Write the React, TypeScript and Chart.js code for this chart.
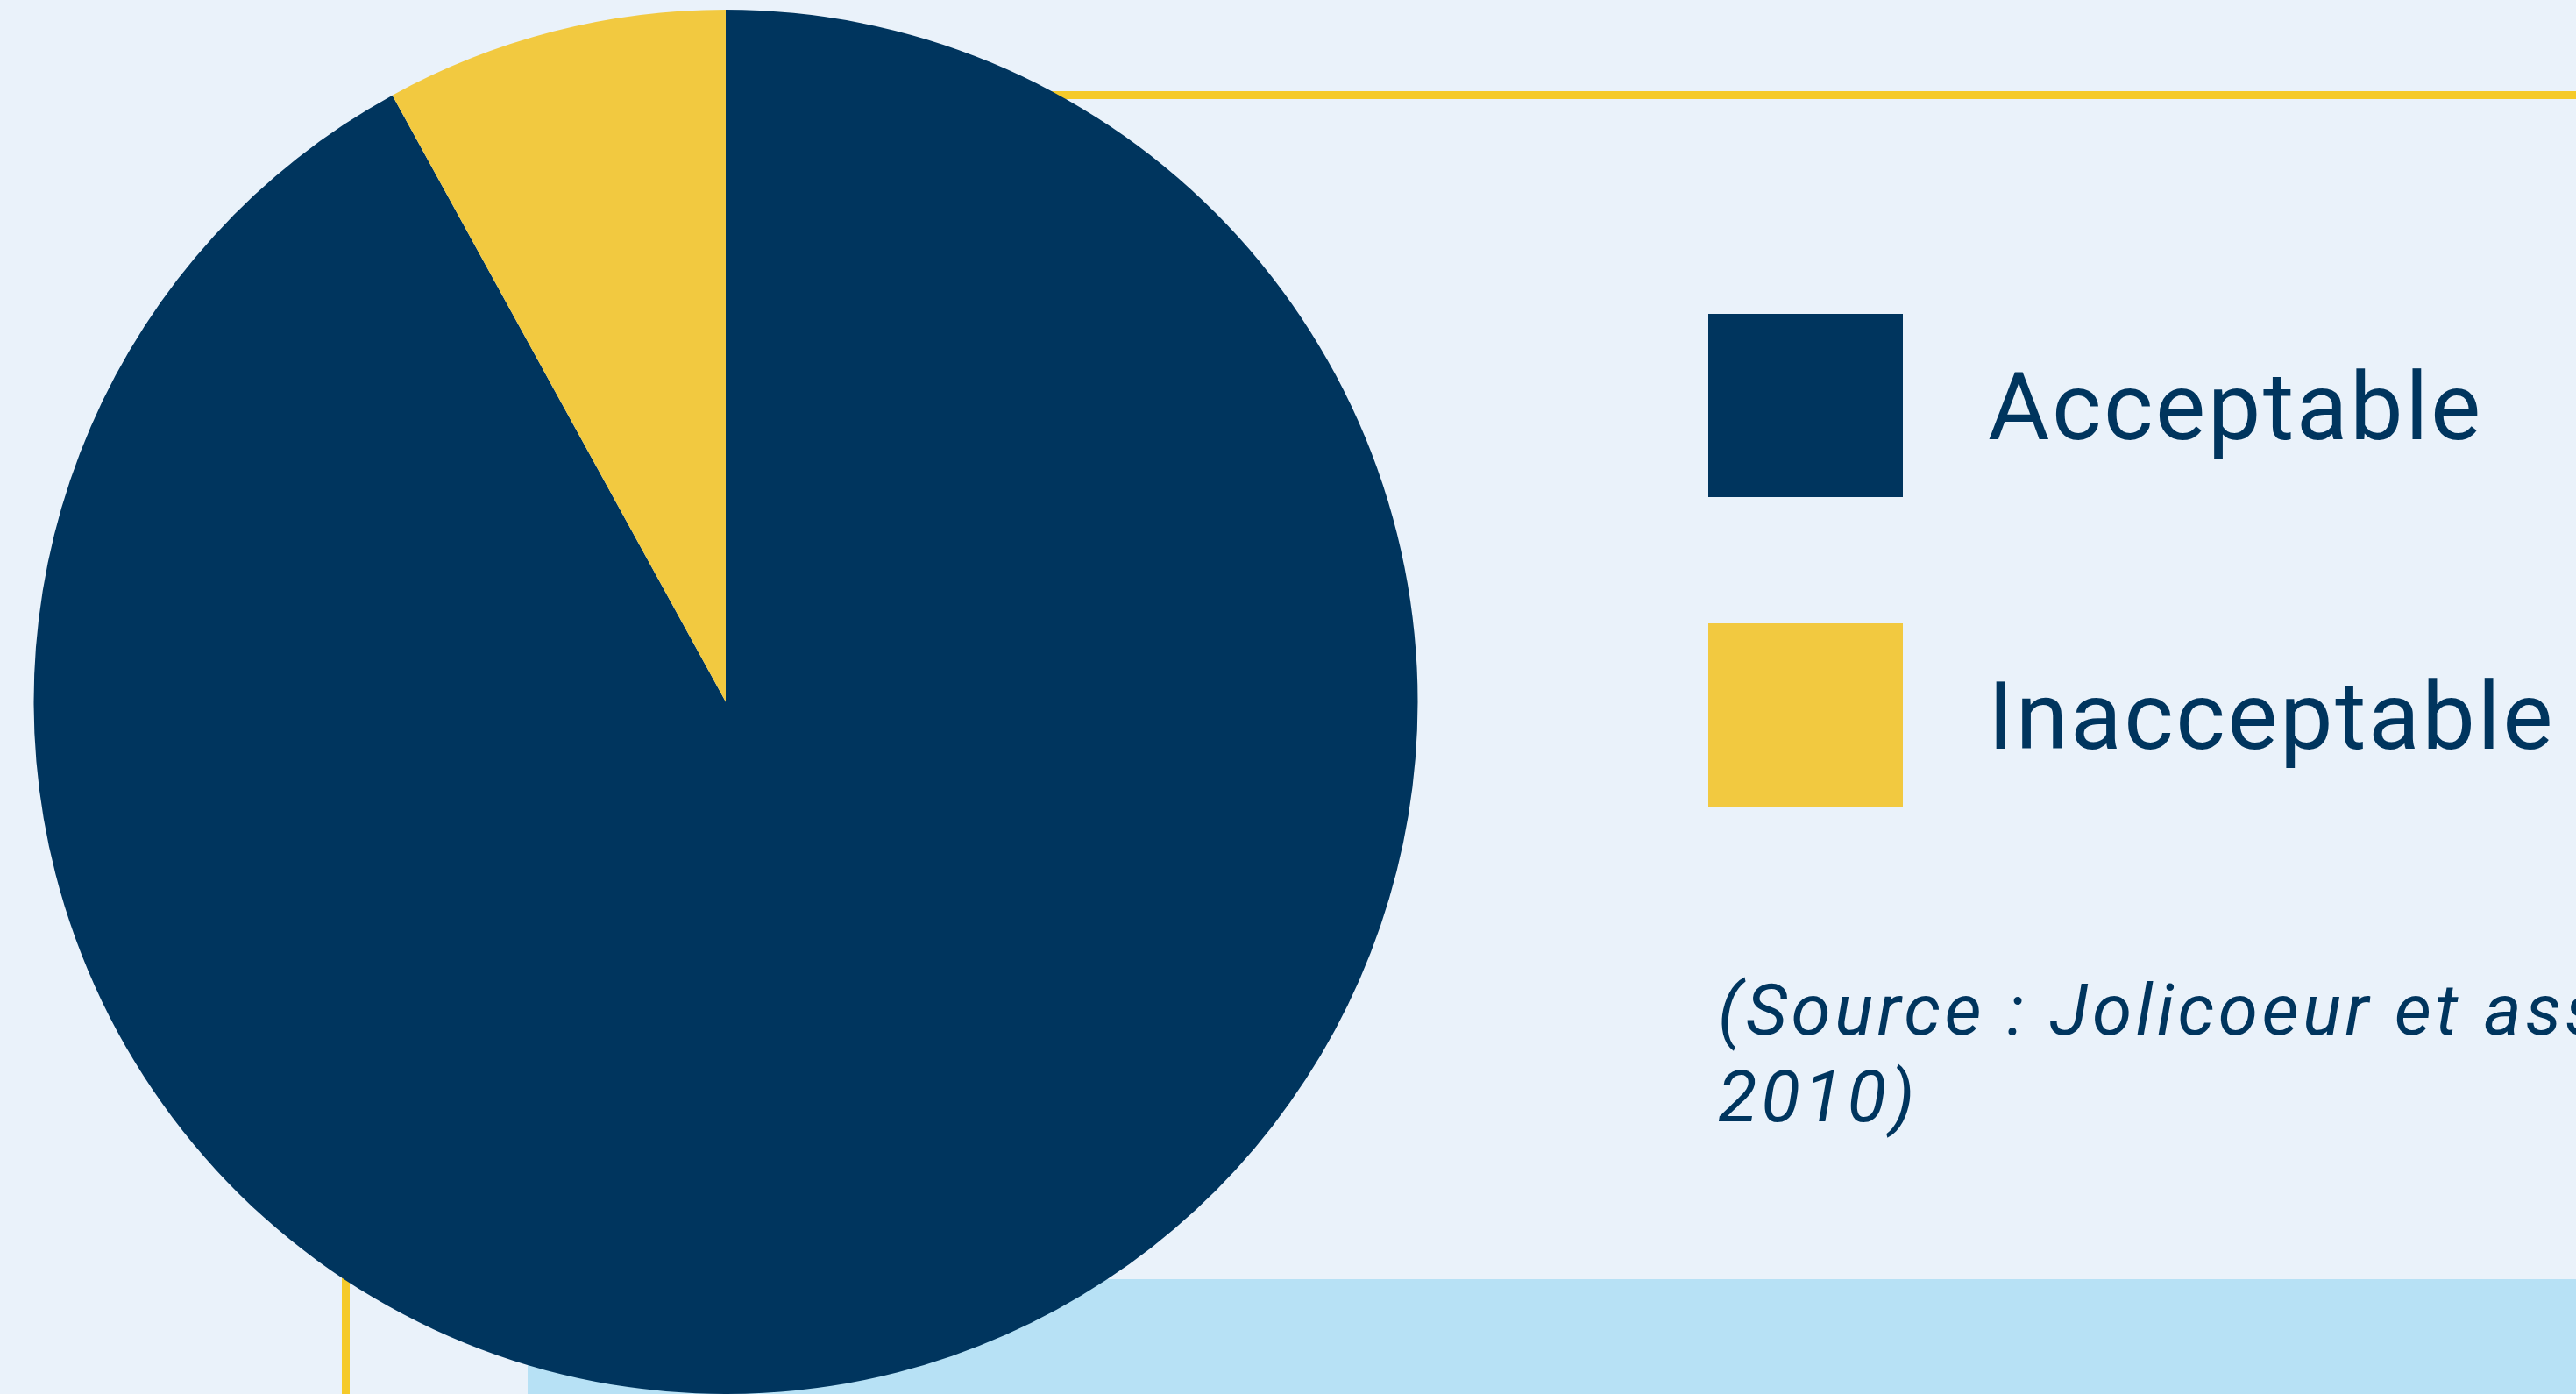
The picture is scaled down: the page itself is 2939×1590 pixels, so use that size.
import React, { useEffect, useRef } from "react";
import { Chart, registerables } from "chart.js";

Chart.register(...registerables);

const labels = ["Acceptable", "Inacceptable"];
const values = [92, 8];
const colors = ["#00355E", "#F2C940"];
const sourceLines = ["(Source : Jolicoeur et associés,", "2010)"];

const W = 2939;
const H = 1590;
const NAVY = "#00355E";

const legendPlugin = {
  id: "customLegend",
  afterDraw(chart: any) {
    const ctx = chart.ctx as CanvasRenderingContext2D;
    const lbls = chart.data.labels as string[];
    const bgs = chart.data.datasets[0].backgroundColor as string[];
    ctx.save();
    const boxX = 1949;
    const boxW = 222;
    const boxH = 209;
    const tops = [358, 711];
    lbls.forEach((l, i) => {
      ctx.fillStyle = bgs[i];
      ctx.fillRect(boxX, tops[i], boxW, boxH);
      ctx.fillStyle = NAVY;
      ctx.font = "108px Roboto";
      (ctx as any).letterSpacing = "2.5px";
      ctx.textBaseline = "alphabetic";
      ctx.textAlign = "left";
      const baseline = tops[i] + boxH / 2 + 38;
      ctx.fillText(l, 2268, baseline);
    });
    ctx.font = "italic 82px Roboto";
    (ctx as any).letterSpacing = "4.5px";
    ctx.fillText(sourceLines[0], 1960, 1180);
    ctx.fillText(sourceLines[1], 1960, 1279);
    ctx.restore();
  },
};

export default function App() {
  const ref = useRef<HTMLCanvasElement | null>(null);
  useEffect(() => {
    document.body.style.margin = "0";
    const canvas = ref.current!;
    const chart = new Chart(canvas, {
      type: "pie",
      data: {
        labels,
        datasets: [
          {
            data: values,
            backgroundColor: colors,
            borderWidth: 0,
          },
        ],
      },
      options: {
        responsive: false,
        animation: false,
        devicePixelRatio: 1,
        layout: { padding: { left: 36, top: 11, right: 1319, bottom: -4 } },
        plugins: {
          legend: { display: false },
          tooltip: { enabled: false },
        },
      },
      plugins: [legendPlugin],
    });
    return () => chart.destroy();
  }, []);

  return (
    <div
      style={{
        position: "fixed",
        left: 0,
        top: 0,
        width: W,
        height: H,
        background: "#EAF2FA",
        overflow: "hidden",
      }}
    >
      <div style={{ position: "absolute", left: 700, top: 104, width: W - 700, height: 9, background: "#F5CA2A" }} />
      <div style={{ position: "absolute", left: 390, top: 700, width: 9, height: H - 700, background: "#F5CA2A" }} />
      <div style={{ position: "absolute", left: 602, top: 1459, width: W - 602, height: H - 1459, background: "#B7E1F5" }} />
      <canvas ref={ref} width={W} height={H} style={{ position: "absolute", left: 0, top: 0, width: W, height: H }} />
    </div>
  );
}
